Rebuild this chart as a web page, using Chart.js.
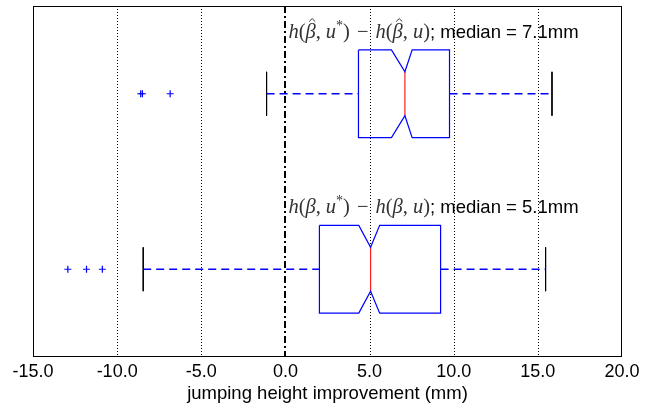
<!DOCTYPE html>
<html>
<head>
<meta charset="utf-8">
<script src="https://cdn.jsdelivr.net/npm/chart.js@4.4.0/dist/chart.umd.min.js"></script>
<style>
  html, body { margin: 0; padding: 0; background: #fff; }
  canvas { display: block; }
</style>
</head>
<body>
<canvas id="chart" width="654" height="408"></canvas>
<script>
// Box plot data, one entry per row, top to bottom
const positions = [1, 2];
const hatted = [true, false];            // beta with hat in the label or not
const lowerWhisker = [-1.12, -8.45];
const q1 = [4.34, 2.02];
const median = [7.1, 5.06];
const q3 = [9.75, 9.22];
const upperWhisker = [15.84, 15.46];
const notchLow = [6.3, 4.36];
const notchHigh = [7.53, 5.6];
const outliers = [[-8.6, -8.5, -6.85], [-12.93, -11.82, -10.88]];
const xTicks = [-15, -10, -5, 0, 5, 10, 15, 20];

const SANS = "'Liberation Sans', Arial, sans-serif";
const SERIF = "'Liberation Serif', 'Times New Roman', serif";
const BLUE = "#0000ff";

// Build line datasets for each box
const datasets = [];
const line = (data, color, extra) => Object.assign({
  data, showLine: true, borderColor: color, borderWidth: 1,
  pointRadius: 0, fill: false, tension: 0
}, extra || {});

positions.forEach((p, i) => {
  const h = 0.25, n = 0.125;
  // notched box outline
  datasets.push(line([
    { x: q1[i], y: p - h }, { x: notchLow[i], y: p - h }, { x: median[i], y: p - n },
    { x: notchHigh[i], y: p - h }, { x: q3[i], y: p - h }, { x: q3[i], y: p + h },
    { x: notchHigh[i], y: p + h }, { x: median[i], y: p + n }, { x: notchLow[i], y: p + h },
    { x: q1[i], y: p + h }, { x: q1[i], y: p - h }
  ], BLUE, { borderWidth: 1.2 }));
  // median
  datasets.push(line([{ x: median[i], y: p - n }, { x: median[i], y: p + n }], "#ff2020", { borderWidth: 1.2 }));
  // whiskers
  datasets.push(line([{ x: lowerWhisker[i], y: p }, { x: q1[i], y: p }], BLUE, { borderDash: [8, 5], borderWidth: 1.3 }));
  datasets.push(line([{ x: q3[i], y: p }, { x: upperWhisker[i], y: p }], BLUE, { borderDash: [8, 5], borderWidth: 1.3 }));
  // caps
  datasets.push(line([{ x: lowerWhisker[i], y: p - n }, { x: lowerWhisker[i], y: p + n }], "#000"));
  datasets.push(line([{ x: upperWhisker[i], y: p - n }, { x: upperWhisker[i], y: p + n }], "#000"));
  // outliers
  datasets.push({
    data: outliers[i].map(v => ({ x: v, y: p })),
    showLine: false, pointStyle: "cross", pointRadius: 3.5,
    borderColor: BLUE, borderWidth: 1.2, backgroundColor: BLUE
  });
});

// grid, zero line, frame and labels
const framePlugin = {
  id: "frame",
  beforeDatasetsDraw(chart) {
    const { ctx, chartArea: a, scales: { x } } = chart;
    ctx.save();
    ctx.strokeStyle = "#000";
    ctx.lineWidth = 1;
    ctx.setLineDash([1, 2]);
    xTicks.forEach(v => {
      if (v === 0 || v === xTicks[0] || v === xTicks[xTicks.length - 1]) return;
      const px = Math.round(x.getPixelForValue(v)) + 0.5;
      ctx.beginPath();
      ctx.moveTo(px, a.top);
      ctx.lineTo(px, a.bottom);
      ctx.stroke();
    });
    // reference line at zero
    const z = Math.round(x.getPixelForValue(0));
    ctx.lineWidth = 2;
    ctx.setLineDash([7, 3, 2, 3]);
    ctx.beginPath();
    ctx.moveTo(z, a.top);
    ctx.lineTo(z, a.bottom);
    ctx.stroke();
    ctx.restore();
  },
  afterDatasetsDraw(chart) {
    const { ctx, chartArea: a, scales: { x, y } } = chart;
    ctx.save();
    ctx.strokeStyle = "#000";
    ctx.lineWidth = 1;
    ctx.setLineDash([]);
    ctx.strokeRect(Math.round(a.left) + 0.5, Math.round(a.top) + 0.5,
      Math.round(a.right - a.left) - 1, Math.round(a.bottom - a.top) - 1);

    // labels above the boxes
    positions.forEach((p, i) => {
      let cx = x.getPixelForValue(0) + 3;
      const by = y.getPixelForValue(p - 0.32);
      const it = "italic 20.5px " + SERIF, rm = "20.5px " + SERIF;
      // [text, font, hat, raise, space after]
      const segs = [
        ["h", it], ["(", rm], ["β", it, hatted[i]], [",", rm, false, 0, 5], ["u", it],
        ["*", "14px " + SERIF, false, -8], [")", rm, false, 0, 7], ["−", rm, false, 0, 7],
        ["h", it], ["(", rm], ["β", it, hatted[i]], [",", rm, false, 0, 5], ["u", it], [")", rm]
      ];
      ctx.fillStyle = "#333";
      ctx.textBaseline = "alphabetic";
      ctx.textAlign = "left";
      segs.forEach(([t, f, hat, dy, sp]) => {
        ctx.font = f;
        const w = ctx.measureText(t).width;
        ctx.fillText(t, cx, by + (dy || 0));
        if (hat) {
          ctx.beginPath();
          ctx.lineWidth = 1;
          ctx.strokeStyle = "#333";
          ctx.moveTo(cx + w * 0.35, by - 16);
          ctx.lineTo(cx + w * 0.65, by - 19);
          ctx.lineTo(cx + w * 0.95, by - 16);
          ctx.stroke();
        }
        cx += w + (sp || 0);
      });
      ctx.fillStyle = "#000";
      ctx.font = "18.5px " + SANS;
      ctx.fillText("; median = " + median[i].toFixed(1) + "mm", cx, by);
    });
    ctx.restore();
  }
};

new Chart(document.getElementById("chart"), {
  type: "scatter",
  data: { datasets },
  options: {
    responsive: false,
    animation: false,
    devicePixelRatio: 1,
    layout: { padding: { left: 33, right: 32, top: 6, bottom: 0 } },
    plugins: { legend: { display: false }, tooltip: { enabled: false } },
    scales: {
      x: {
        type: "linear", min: -15, max: 20,
        afterBuildTicks: s => { s.ticks = xTicks.map(v => ({ value: v })); },
        ticks: {
          callback: v => v.toFixed(1), color: "#000", padding: 4,
          maxRotation: 0, autoSkip: false,
          font: { family: SANS, size: 18 }
        },
        grid: { display: false, drawTicks: false, tickLength: 0 },
        border: { display: false },
        title: {
          display: true, text: "jumping height improvement (mm)", color: "#000",
          font: { family: SANS, size: 18.5 }, padding: { top: 0, bottom: 3 }
        },
        afterFit: s => { s.height = 51; }
      },
      y: { type: "linear", min: 0.5, max: 2.5, reverse: true, display: false }
    }
  },
  plugins: [framePlugin]
});
</script>
</body>
</html>
